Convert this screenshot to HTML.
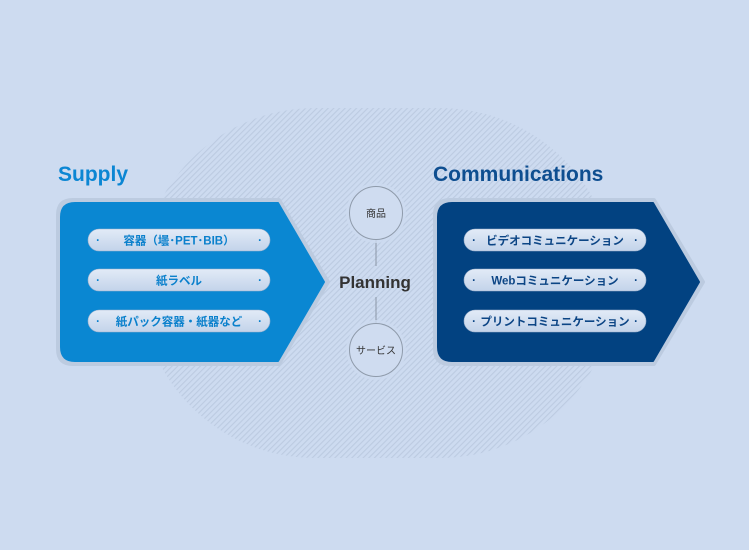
<!DOCTYPE html>
<html><head><meta charset="utf-8"><style>
body{margin:0;width:749px;height:550px;background:#cddbf0;overflow:hidden;font-family:"Liberation Sans","Noto Sans CJK JP",sans-serif;}
</style></head><body>
<svg width="749" height="550" xmlns="http://www.w3.org/2000/svg" style="position:absolute;left:0;top:0">
<defs>
<pattern id="h" width="4" height="4" patternUnits="userSpaceOnUse" patternTransform="rotate(45)">
<rect width="4" height="4" fill="#cddbf0"/><rect width="1.1" height="4" fill="#bccbe1"/>
</pattern>
<linearGradient id="pill" x1="0" y1="0" x2="0" y2="1"><stop offset="0" stop-color="#e2ebf7"/><stop offset="1" stop-color="#c3d3ea"/></linearGradient>
</defs>
<rect x="140" y="108" width="475" height="350" rx="175" fill="url(#h)"/>
<text x="58" y="181" font-size="21" font-weight="bold" fill="#0b86d3" font-family="Liberation Sans,sans-serif">Supply</text>
<text x="433" y="181" font-size="21" font-weight="bold" fill="#0e4e90" font-family="Liberation Sans,sans-serif">Communications</text>
<path d="M73 200 H279 L328 282 L279 364 H73 Q58 364 58 349 V215 Q58 200 73 200Z" fill="#bccbe0" stroke="#bccbe0" stroke-width="4" stroke-linejoin="round"/>
<path d="M75 203 H278 L324 282 L278 361 H75 Q61 361 61 347 V217 Q61 203 75 203Z" fill="#0a87d2" stroke="#0a87d2" stroke-width="2" stroke-linejoin="round"/>
<path d="M450 200 H654 L703 282 L654 364 H450 Q435 364 435 349 V215 Q435 200 450 200Z" fill="#bccbe0" stroke="#bccbe0" stroke-width="4" stroke-linejoin="round"/>
<path d="M452 203 H653 L699 282 L653 361 H452 Q438 361 438 347 V217 Q438 203 452 203Z" fill="#024281" stroke="#024281" stroke-width="2" stroke-linejoin="round"/>
<g fill="url(#pill)" stroke="#9fb2cc" stroke-width="0.6">
<rect x="88" y="229" width="182" height="22" rx="11"/>
<rect x="88" y="269" width="182" height="22" rx="11"/>
<rect x="88" y="310" width="182" height="22" rx="11"/>
<rect x="464" y="229" width="182" height="22" rx="11"/>
<rect x="464" y="269" width="182" height="22" rx="11"/>
<rect x="464" y="310" width="182" height="22" rx="11"/>
</g>
<g font-size="11.5" font-weight="bold" text-anchor="middle" font-family="Liberation Sans,Noto Sans CJK JP,sans-serif">
<g fill="#0a80cc">
<text x="179" y="244.5">容器（壜･PET･BIB）</text>
<text x="179" y="284.5">紙ラベル</text>
<text x="179" y="325.5">紙パック容器・紙器など</text>
<text x="98" y="244">·</text><text x="260" y="244">·</text>
<text x="98" y="284">·</text><text x="260" y="284">·</text>
<text x="98" y="325">·</text><text x="260" y="325">·</text>
</g>
<g fill="#0c4585">
<text x="555" y="244.5">ビデオコミュニケーション</text>
<text x="555" y="284.5">Webコミュニケーション</text>
<text x="555" y="325.5">プリントコミュニケーション</text>
<text x="474" y="244">·</text><text x="636" y="244">·</text>
<text x="474" y="284">·</text><text x="636" y="284">·</text>
<text x="474" y="325">·</text><text x="636" y="325">·</text>
</g>
</g>
<line x1="376" y1="240" x2="376" y2="266" stroke="#8a96a6" stroke-width="1"/>
<line x1="376" y1="297" x2="376" y2="323" stroke="#8a96a6" stroke-width="1"/>
<circle cx="376" cy="213" r="30" fill="#cddbf0" opacity="0.8"/>
<circle cx="376" cy="213" r="26.5" fill="#cfdcf0" stroke="#8f9bab" stroke-width="1"/>
<circle cx="376" cy="350" r="30" fill="#cddbf0" opacity="0.8"/>
<circle cx="376" cy="350" r="26.5" fill="#cfdcf0" stroke="#8f9bab" stroke-width="1"/>
<text x="376" y="217" font-size="10" text-anchor="middle" fill="#333" font-family="Liberation Sans,Noto Sans CJK JP,sans-serif">商品</text>
<text x="376" y="354" font-size="10" text-anchor="middle" fill="#333" font-family="Liberation Sans,Noto Sans CJK JP,sans-serif">サービス</text>
<text x="375" y="288" font-size="17" font-weight="bold" text-anchor="middle" fill="#333" font-family="Liberation Sans,sans-serif">Planning</text>
</svg>
</body></html>
